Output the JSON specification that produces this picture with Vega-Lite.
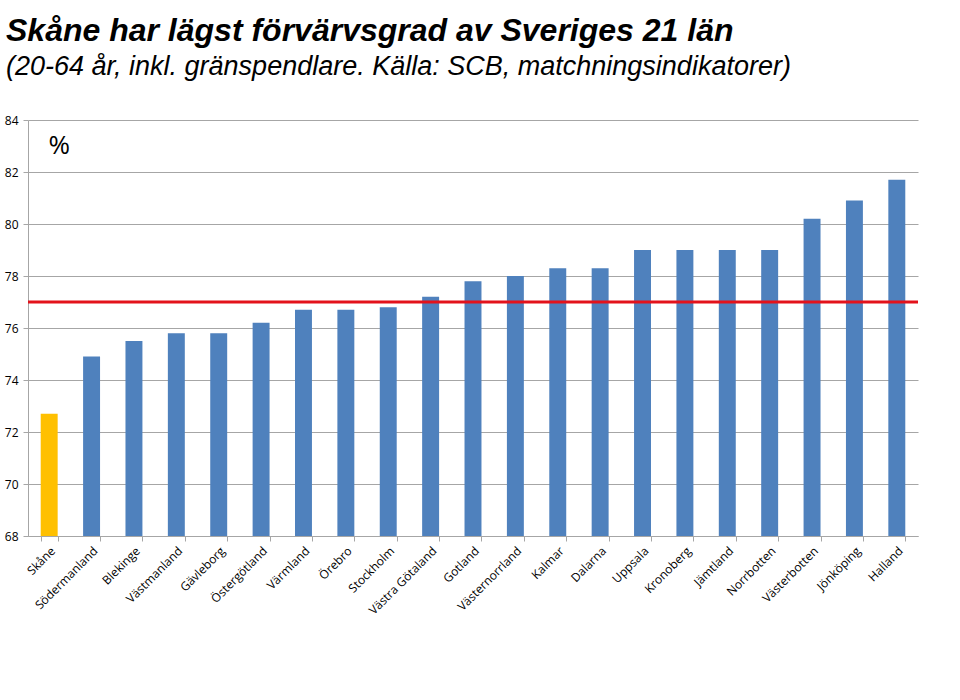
{
  "$schema": "https://vega.github.io/schema/vega-lite/v6.json",
  "width": 890,
  "height": 416,
  "autosize": {"type": "none"},
  "padding": {"left": 28, "top": 120, "right": 42, "bottom": 164},
  "background": "white",
  "title": {
    "text": "Skåne har lägst förvärvsgrad av Sveriges 21 län",
    "subtitle": "(20-64 år, inkl. gränspendlare. Källa: SCB, matchningsindikatorer)",
    "anchor": "start",
    "frame": "group",
    "dx": -22,
    "offset": 33,
    "font": "Liberation Sans",
    "fontSize": 32,
    "fontStyle": "italic",
    "fontWeight": "bold",
    "color": "black",
    "subtitleFont": "Liberation Sans",
    "subtitleFontSize": 27,
    "subtitleFontStyle": "italic",
    "subtitleColor": "black",
    "subtitlePadding": 6
  },
  "config": {
    "view": {"stroke": null},
    "axis": {
      "labelFont": "Open Sans",
      "labelFontSize": 12,
      "labelColor": "black",
      "domainColor": "#A6A6A6",
      "tickColor": "#A6A6A6",
      "gridColor": "#A6A6A6",
      "gridWidth": 1,
      "tickSize": 5,
      "title": null
    }
  },
  "layer": [
    {
      "data": {
        "values": [
          {"lan": "Skåne", "varde": 72.7},
          {"lan": "Södermanland", "varde": 74.9},
          {"lan": "Blekinge", "varde": 75.5},
          {"lan": "Västmanland", "varde": 75.8},
          {"lan": "Gävleborg", "varde": 75.8},
          {"lan": "Östergötland", "varde": 76.2},
          {"lan": "Värmland", "varde": 76.7},
          {"lan": "Örebro", "varde": 76.7},
          {"lan": "Stockholm", "varde": 76.8},
          {"lan": "Västra Götaland", "varde": 77.2},
          {"lan": "Gotland", "varde": 77.8},
          {"lan": "Västernorrland", "varde": 78.0},
          {"lan": "Kalmar", "varde": 78.3},
          {"lan": "Dalarna", "varde": 78.3},
          {"lan": "Uppsala", "varde": 79.0},
          {"lan": "Kronoberg", "varde": 79.0},
          {"lan": "Jämtland", "varde": 79.0},
          {"lan": "Norrbotten", "varde": 79.0},
          {"lan": "Västerbotten", "varde": 80.2},
          {"lan": "Jönköping", "varde": 80.9},
          {"lan": "Halland", "varde": 81.7}
        ]
      },
      "mark": {"type": "bar", "clip": true},
      "encoding": {
        "x": {
          "field": "lan",
          "type": "nominal",
          "sort": null,
          "scale": {"paddingInner": 0.6, "paddingOuter": 0.3},
          "axis": {"labelAngle": -45, "tickBand": "extent", "labelPadding": 4, "grid": false}
        },
        "y": {
          "field": "varde",
          "type": "quantitative",
          "scale": {"domain": [68, 84], "zero": false, "nice": false},
          "axis": {"values": [68, 70, 72, 74, 76, 78, 80, 82, 84], "grid": true, "labelPadding": 5}
        },
        "y2": {"datum": 68},
        "color": {
          "condition": {"test": "datum.lan === 'Skåne'", "value": "#FFC000"},
          "value": "#4F81BD"
        }
      }
    },
    {
      "data": {"values": [{"niva": 77}]},
      "mark": {"type": "rule", "color": "#E3121B", "strokeWidth": 3},
      "encoding": {"y": {"field": "niva", "type": "quantitative"}}
    },
    {
      "data": {"values": [{"lan": "Skåne", "niva": 83, "etikett": "%"}]},
      "mark": {"type": "text", "font": "Open Sans", "fontSize": 26, "fontWeight": "normal", "color": "black", "dx": 10},
      "encoding": {
        "x": {"field": "lan", "type": "nominal", "sort": null},
        "y": {"field": "niva", "type": "quantitative"},
        "text": {"field": "etikett"}
      }
    }
  ]
}
